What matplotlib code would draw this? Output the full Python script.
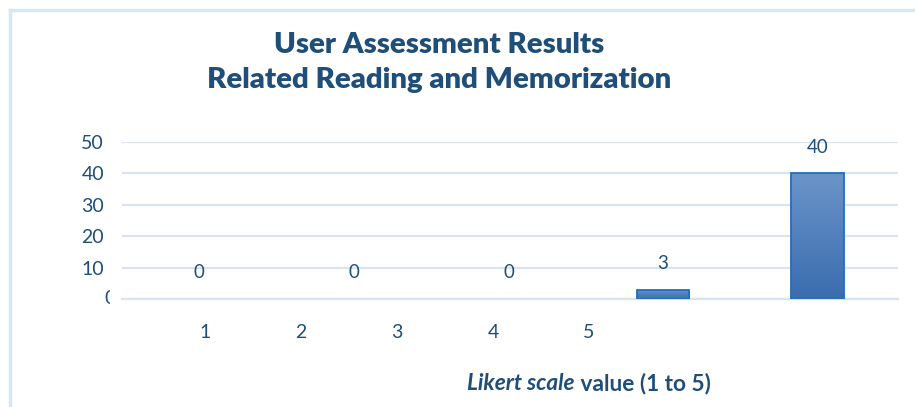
import numpy as np
import matplotlib.pyplot as plt
from matplotlib.colors import LinearSegmentedColormap

categories = ['1', '2', '3', '4', '5']
counts = [0, 0, 0, 3, 40]
tick_text = ['1', '2', '3', '4', '5']
yticks = [0, 10, 20, 30, 40, 50]

dark = '#1F4E79'
grid_c = '#D9E4F3'

plt.rcParams['font.family'] = ['Lato', 'DejaVu Sans']

fig = plt.figure(figsize=(9.15, 4.07), dpi=100)
ax = fig.add_axes([122 / 915, 1 - 299 / 407, 776 / 915, 157 / 407])

x = np.arange(len(categories))
bars = ax.bar(x, counts, width=0.34, color='#4F81BD', linewidth=0, zorder=3)

# vertical gradient inside each bar
grad = np.linspace(0, 1, 256).reshape(-1, 1)
cmap = LinearSegmentedColormap.from_list('g', ['#3A6CAE', '#6B95CA'])
for b in bars:
    if b.get_height() <= 0:
        continue
    im = ax.imshow(grad, cmap=cmap, origin='lower', aspect='auto', zorder=3.5,
                   extent=[b.get_x(), b.get_x() + b.get_width(), 0, b.get_height()])
    im.set_clip_path(b)
    ax.add_patch(plt.Rectangle((b.get_x(), 0), b.get_width(), b.get_height(),
                               fill=False, edgecolor='#1F6FC0', linewidth=1.3, zorder=4))

for xi, v in zip(x, counts):
    ax.annotate(str(v), (xi, v), xytext=(0, 19), textcoords='offset points',
                ha='center', va='center', fontsize=13.5, color=dark)

ax.set_xlim(-0.5, 4.52)
ax.set_ylim(0, 50)
ax.set_yticks(yticks)
# the "0" tick label is cut off in the original, drawn separately below
ax.set_yticklabels([''] + [str(t) for t in yticks[1:]], fontsize=14, color=dark)
ax.tick_params(axis='y', length=0, pad=13)
ax.set_xticks([])
ax.yaxis.grid(True, color=grid_c, linewidth=1.6, zorder=0)
for s in ax.spines.values():
    s.set_visible(False)
ax.spines['bottom'].set_visible(True)
ax.spines['bottom'].set_color(grid_c)
ax.spines['bottom'].set_linewidth(1.6)

fig.text(104 / 915, 1 - 298 / 407, '0', ha='left', va='center', fontsize=14, color=dark)
fig.add_artist(plt.Rectangle((109.5 / 915, 1 - 312 / 407), 10 / 915, 28 / 407,
                             transform=fig.transFigure, facecolor='white',
                             edgecolor='none', zorder=5))

# category labels sit shifted to the left of the bars
for i, t in enumerate(tick_text):
    fig.text((205 + 96 * i) / 915, 1 - 333 / 407, t, ha='center', va='center',
             fontsize=14, color=dark)

renderer = fig.canvas.get_renderer()
xl1 = fig.text(0, 1 - 384 / 407, 'Likert scale', ha='left', va='center',
               fontsize=16.3, color=dark, fontweight='bold', fontstyle='italic')
xl2 = fig.text(0, 1 - 384 / 407, ' value (1 to 5)', ha='left', va='center',
               fontsize=16.3, color=dark, fontweight='bold')
w1 = xl1.get_window_extent(renderer).width
w2 = xl2.get_window_extent(renderer).width
start = 589 - (w1 + w2) / 2
xl1.set_x(start / 915)
xl2.set_x((start + w1) / 915)

t1 = fig.text(439 / 915, 1 - 45 / 407, 'User Assessment Results', ha='center', va='center',
              fontsize=21.2, color=dark, fontweight='heavy')
t2 = fig.text(439 / 915, 1 - 80 / 407, 'Related Reading and Memorization', ha='center',
              va='center', fontsize=21.2, color=dark, fontweight='heavy')
# bottom of the second title line is cut off in the original
fig.add_artist(plt.Rectangle((150 / 915, 1 - 105 / 407), 600 / 915, 12 / 407,
                             transform=fig.transFigure, facecolor='white',
                             edgecolor='none', zorder=5))

# light chart-area border (top and left only visible)
fig.add_artist(plt.Line2D([10 / 915, 1], [1 - 10 / 407, 1 - 10 / 407], color='#DAE6F6',
                          linewidth=2.5, transform=fig.transFigure))
fig.add_artist(plt.Line2D([10 / 915, 10 / 915], [0, 1 - 10 / 407], color='#DAE6F6',
                          linewidth=2.5, transform=fig.transFigure))

fig.savefig('out.png', dpi=100, facecolor='white')
